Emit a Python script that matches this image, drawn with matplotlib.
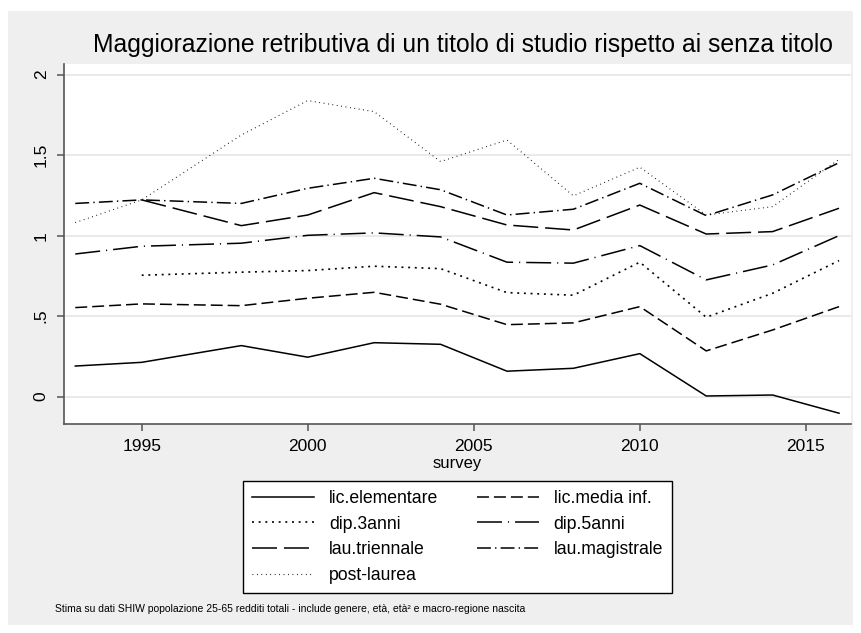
import numpy as np
import matplotlib
matplotlib.use('Agg')
import matplotlib.pyplot as plt
from matplotlib.patches import Rectangle

plt.rcParams['font.family'] = ['Liberation Sans', 'DejaVu Sans']
plt.rcParams['lines.scale_dashes'] = False

years = [1993, 1995, 1998, 2000, 2002, 2004, 2006, 2008, 2010, 2012, 2014, 2016]

lic_elementare = [0.19, 0.213, 0.317, 0.245, 0.335, 0.325, 0.158, 0.176, 0.267, 0.004, 0.01, -0.103]
lic_media = [0.553, 0.576, 0.565, 0.611, 0.648, 0.574, 0.447, 0.458, 0.559, 0.284, 0.414, 0.559]
dip_3anni = [np.nan, 0.754, 0.773, 0.783, 0.81, 0.795, 0.646, 0.63, 0.835, 0.493, 0.642, 0.845]
dip_5anni = [0.886, 0.934, 0.953, 1.002, 1.017, 0.992, 0.835, 0.829, 0.938, 0.725, 0.818, 1.0]
lau_triennale = [np.nan, 1.222, 1.062, 1.128, 1.267, 1.18, 1.066, 1.035, 1.19, 1.01, 1.025, 1.17]
lau_magistrale = [1.2, 1.222, 1.2, 1.294, 1.356, 1.285, 1.128, 1.164, 1.325, 1.124, 1.253, 1.453]
post_laurea = [1.081, 1.222, 1.625, 1.839, 1.77, 1.46, 1.594, 1.247, 1.425, 1.128, 1.18, 1.474]

labels = ['lic.elementare', 'lic.media inf.', 'dip.3anni', 'dip.5anni',
          'lau.triennale', 'lau.magistrale', 'post-laurea']
series = [lic_elementare, lic_media, dip_3anni, dip_5anni,
          lau_triennale, lau_magistrale, post_laurea]
styles = [
    dict(ls='-', lw=1.1),
    dict(ls=(0, (8.6, 3.6)), lw=1.1),
    dict(ls=(0, (1.4, 3.4)), lw=1.2),
    dict(ls=(0, (18, 4.3, 0.8, 4.3)), lw=1.1),
    dict(ls=(0, (18, 5)), lw=1.1),
    dict(ls=(0, (10, 3, 1, 3)), lw=1.1),
    dict(ls=(0, (0.6, 2.6)), lw=0.8),
]

W, H = 861, 633
fig = plt.figure(figsize=(W / 100, H / 100), dpi=100, facecolor='white')
fig.patches.append(Rectangle((8 / W, 8 / H), 1 - 16 / W, 1 - 19 / H,
                             transform=fig.transFigure, facecolor='#efefef',
                             edgecolor='none', zorder=-10))

ax = fig.add_axes([64 / W, 1 - 424 / H, (851 - 64) / W, (424 - 64) / H])
ax.set_facecolor('white')

handles = []
for y, lab, st in zip(series, labels, styles):
    h, = ax.plot(years, y, color='black', label=lab, **st)
    handles.append(h)

ax.set_xlim(1992.66, 2016.36)
ax.set_ylim(-0.17, 2.066)
ax.set_xticks([1995, 2000, 2005, 2010, 2015])
ax.set_yticks([0, 0.5, 1, 1.5, 2])
ax.set_yticklabels(['0', '.5', '1', '1.5', '2'], rotation=90, va='center')
ax.grid(axis='y', color='#e6e6e6', lw=1.2)
ax.set_axisbelow(True)
for s in ['top', 'right']:
    ax.spines[s].set_visible(False)
for s in ['left', 'bottom']:
    ax.spines[s].set_color('#555555')
    ax.spines[s].set_linewidth(1.2)
ax.tick_params(colors='#555555', labelcolor='black', labelsize=12.5, length=5, width=1.1, pad=6)
ax.set_xlabel('survey', fontsize=12, labelpad=1)

fig.text(463 / W, 1 - 45 / H, 'Maggiorazione retributiva di un titolo di studio rispetto ai senza titolo',
         ha='center', va='center', fontsize=17.8)

order = [0, 2, 4, 6, 1, 3, 5]
leg = fig.legend([handles[i] for i in order], [labels[i] for i in order],
                 ncol=2, loc='center', bbox_to_anchor=(457.5 / W, 1 - 537 / H),
                 fontsize=12.7, frameon=True, fancybox=False, edgecolor='black',
                 framealpha=1, handlelength=3.5, handletextpad=0.85,
                 columnspacing=2.2, labelspacing=0.5, borderpad=0.5)
leg.get_frame().set_linewidth(1.0)

fig.text(55 / W, 1 - 609 / H,
         'Stima su dati SHIW popolazione 25-65 redditi totali - include genere, età, età² e macro-regione nascita',
         ha='left', va='center', fontsize=7.5)

fig.savefig('out.png', dpi=100, facecolor='white')
